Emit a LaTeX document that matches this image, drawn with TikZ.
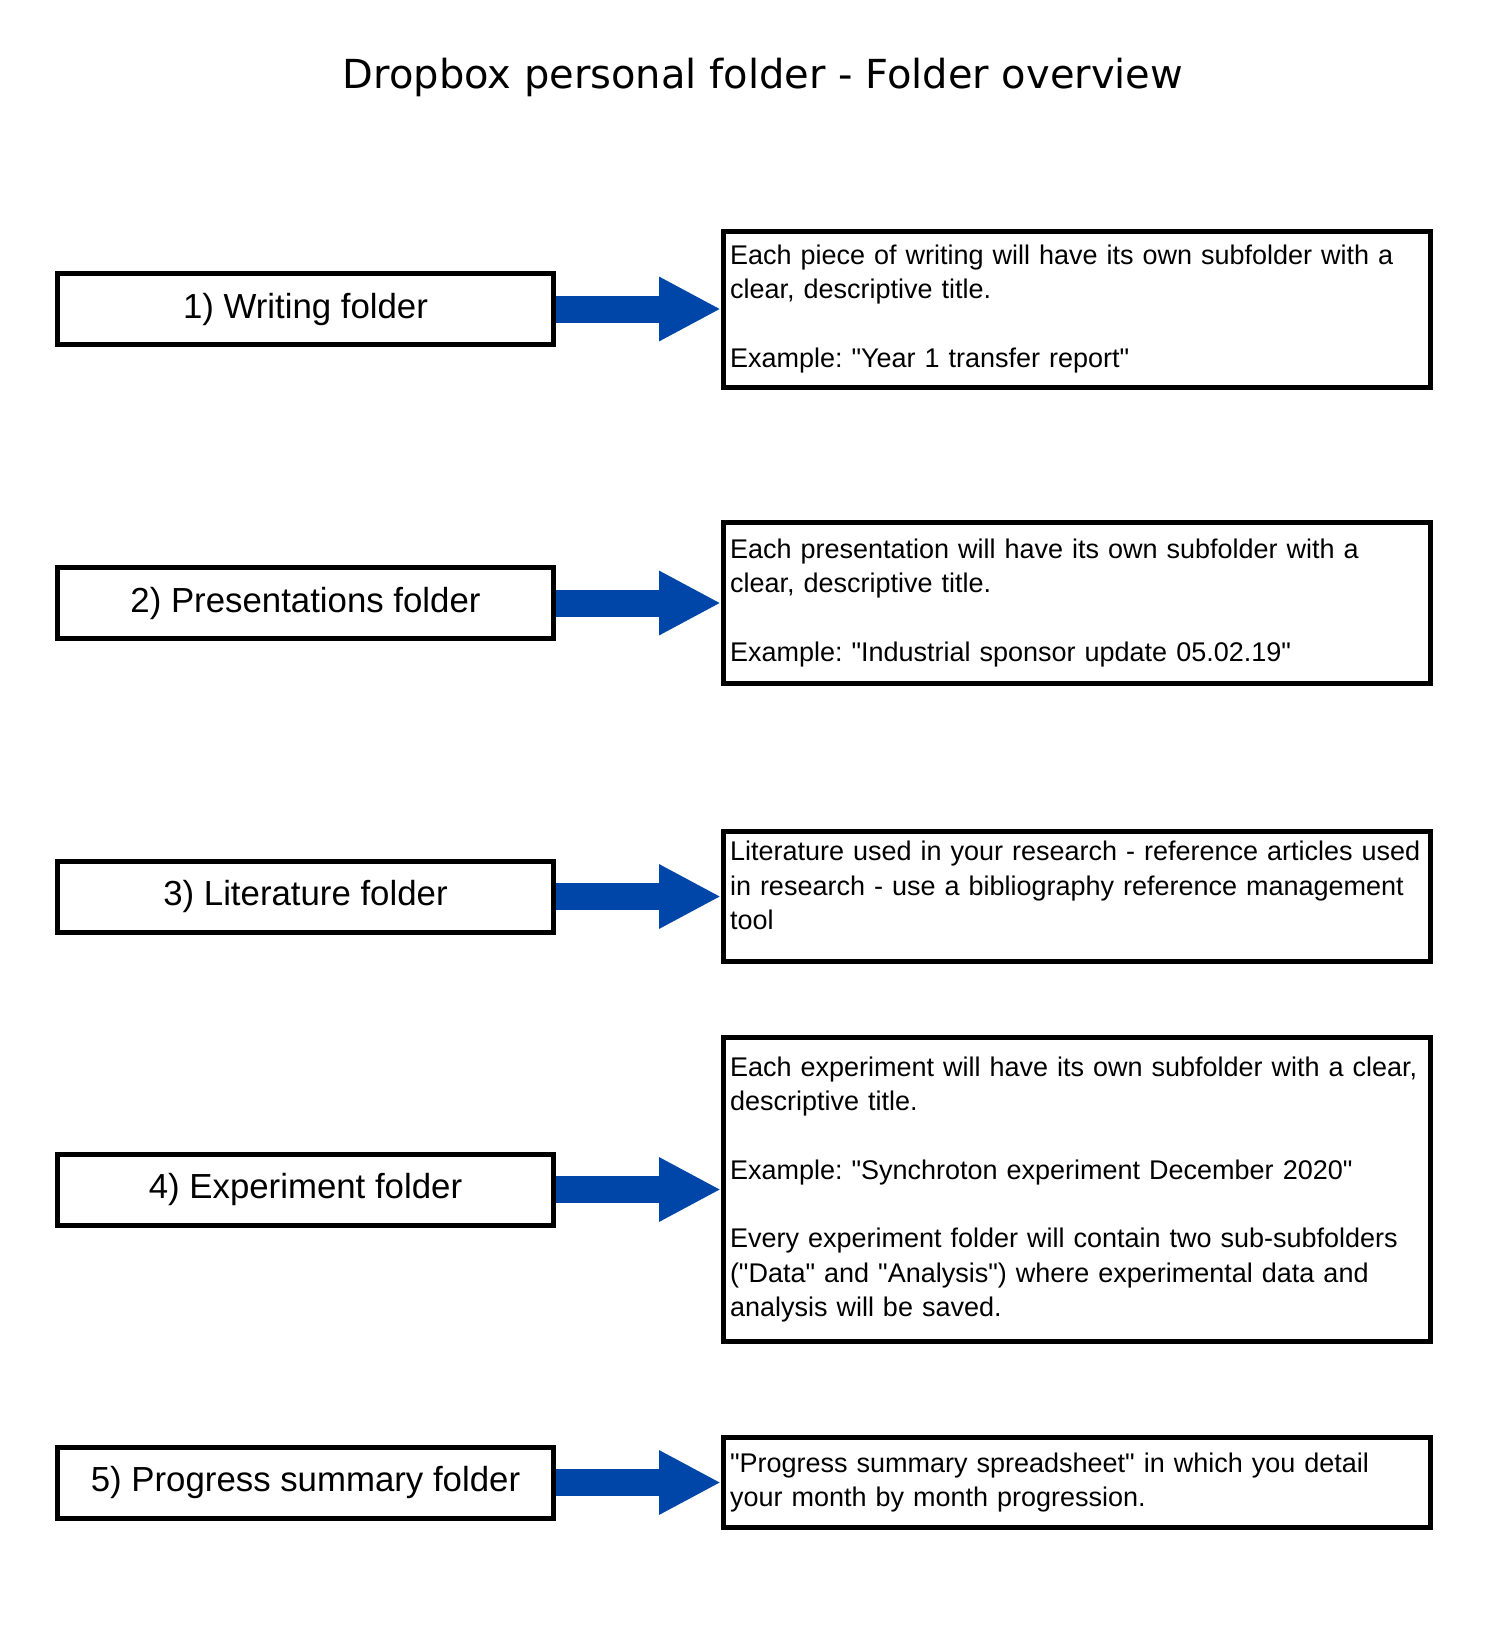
\documentclass[tikz,border=0pt]{standalone}
\usepackage{fontspec}
\setmainfont{Liberation Sans}[Ligatures=TeXOff]
\newfontfamily\titlefont{DejaVu Sans}
\usetikzlibrary{positioning, arrows.meta}
\definecolor{arrowblue}{HTML}{0045A8}
\frenchspacing

\tikzset{
  folder/.style={draw, line width=2.5pt, minimum width=248pt, minimum height=35.5pt,
    font=\fontsize{17.4}{20}\selectfont},
  info/.style={draw, line width=2.5pt, minimum width=353.5pt, text width=347pt,
    inner xsep=3.25pt, align=left, font=\fontsize{13.5}{17.15}\selectfont,
    execute at end node={\rule[-3pt]{0pt}{0pt}}},
  link/.style={arrowblue, line width=13.5pt, -{Triangle[length=31pt, width=30pt]}}
}

\begin{document}
\begin{tikzpicture}[x=0.5pt, y=-0.5pt]
  \useasboundingbox (0,0) rectangle (1488,1628);

  % Title
  \node[font=\titlefont\fontsize{20}{24}\selectfont] (title) at (763,77)
    {Dropbox personal folder - Folder overview};

  % Folders
  \node[folder] (writing) at (305.5,309) {1) Writing folder};
  \node[folder] (presentations) at (305.5,603) {2) Presentations folder};
  \node[folder] (literature) at (305.5,896.5) {3) Literature folder};
  \node[folder] (experiment) at (305.5,1189.5) {4) Experiment folder};
  \node[folder] (progress) at (305.5,1482.5) {5) Progress summary folder};

  % Descriptions
  \node[info, minimum height=78pt, right=82.5pt of writing] (writingInfo)
    {Each piece of writing will have its own subfolder with a\\
     clear, descriptive title.\\[17.15pt]
     Example: "Year 1 transfer report"};
  \node[info, minimum height=80.5pt, right=82.5pt of presentations] (presentationsInfo)
    {Each presentation will have its own subfolder with a\\
     clear, descriptive title.\\[17.15pt]
     Example: "Industrial sponsor update 05.02.19"};
  \node[info, minimum height=65pt, right=82.5pt of literature] (literatureInfo)
    {Literature used in your research - reference articles used\\
     in research - use a bibliography reference management\\
     tool\rule[-11pt]{0pt}{0pt}};
  \node[info, minimum height=152pt, right=82.5pt of experiment] (experimentInfo)
    {Each experiment will have its own subfolder with a clear,\\
     descriptive title.\\[17.15pt]
     Example: "Synchroton experiment December 2020"\\[17.15pt]
     Every experiment folder will contain two sub-subfolders\\
     ("Data" and "Analysis") where experimental data and\\
     analysis will be saved.};
  \node[info, minimum height=45pt, right=82.5pt of progress] (progressInfo)
    {"Progress summary spreadsheet" in which you detail\\
     your month by month progression.};

  % Arrows
  \draw[link] (writing) -- (writingInfo);
  \draw[link] (presentations) -- (presentationsInfo);
  \draw[link] (literature) -- (literatureInfo);
  \draw[link] (experiment) -- (experimentInfo);
  \draw[link] (progress) -- (progressInfo);
\end{tikzpicture}
\end{document}
